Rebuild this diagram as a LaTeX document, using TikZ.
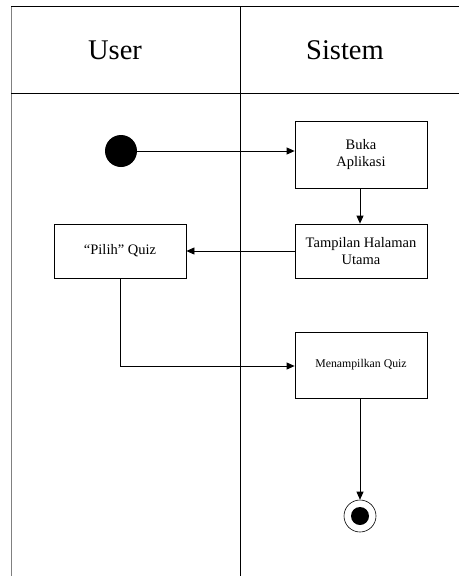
\documentclass[tikz,border=0pt]{standalone}
\usepackage{fontspec}
\setmainfont{Liberation Serif}
\usetikzlibrary{arrows.meta}
\begin{document}
\begin{tikzpicture}[x=1pt,y=-1pt,
  actbox/.style={draw,line width=0.8pt,minimum width=132pt,align=center,inner sep=2pt},
  flow/.style={draw,line width=0.8pt,-{Triangle[length=8pt,width=7pt]}},
  lane/.style={line width=0.9pt},
  head/.style={font=\fontsize{28.5}{32}\selectfont}]
\useasboundingbox (0,0) rectangle (459,576);
% lanes
\draw[lane,gray] (11,6) -- (11,576);
\draw[lane] (11,6.5) -- (459,6.5);
\draw[lane] (11,93.5) -- (459,93.5);
\draw[lane] (240,6.5) -- (240,576);
\node[head] (huser) at (115,50) {User};
\node[head] (hsis) at (345,50) {Sistem};
% nodes
\node[circle,fill=black,minimum size=32pt,inner sep=0pt] (start) at (121,151) {};
\node[actbox,minimum height=67pt,font=\fontsize{14.5}{17}\selectfont] (buka) at (361,154.5) {Buka\\Aplikasi};
\node[actbox,minimum height=54pt,font=\fontsize{14.5}{17}\selectfont] (tamp) at (361,251) {Tampilan Halaman\\Utama};
\node[actbox,minimum height=54pt,font=\fontsize{14.5}{17}\selectfont] (pilih) at (120,251) {“Pilih” Quiz};
\node[actbox,minimum height=66pt,font=\fontsize{11.8}{14}\selectfont] (menam) at (361,365) {Menampilkan Quiz};
\node[circle,draw,line width=0.6pt,minimum size=32pt,inner sep=0pt] (endo) at (360,516) {};
\node[circle,fill=black,minimum size=18pt,inner sep=0pt] (endi) at (360,516) {};
% connectors
\draw[flow] (start.east) -- (start.east -| buka.west);
\draw[flow] (buka.south -| 360,0) -- (tamp.north -| 360,0);
\draw[flow] (tamp.west) -- (pilih.east);
\draw[flow] (pilih.south) -- (120,366) -- (menam.west |- 0,366);
\draw[flow] (menam.south -| 360,0) -- (endo.north);
\end{tikzpicture}
\end{document}
